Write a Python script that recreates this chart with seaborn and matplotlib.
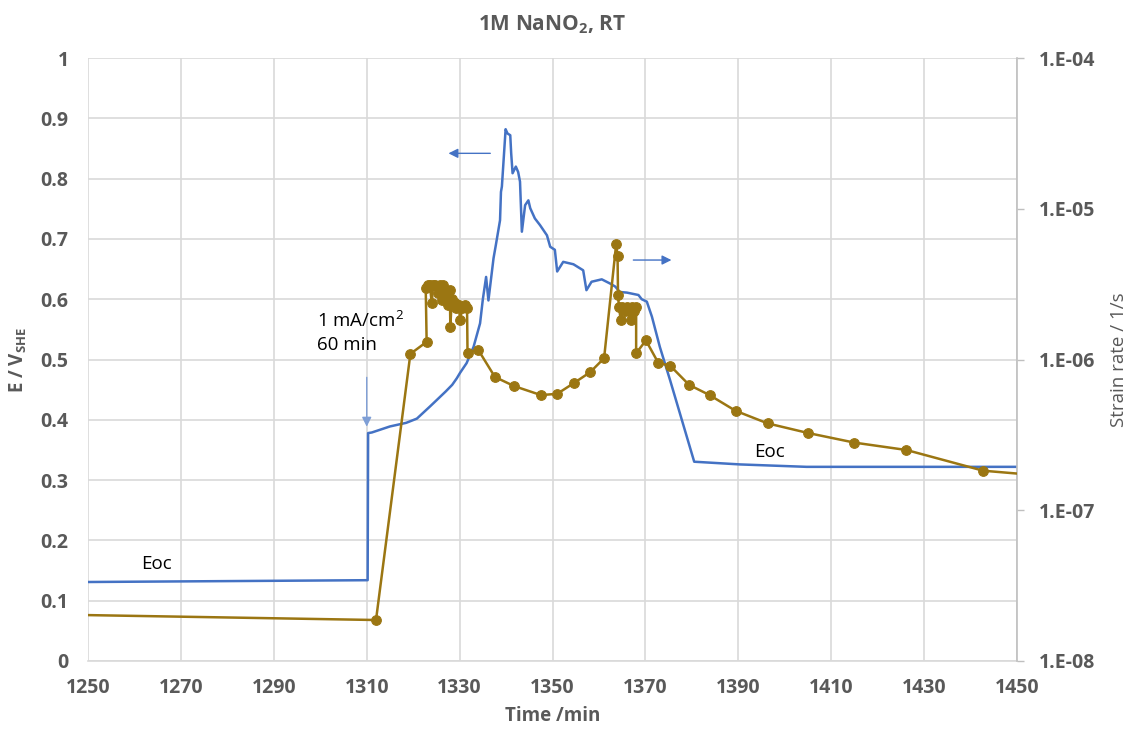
import numpy as np
import pandas as pd
import matplotlib
matplotlib.use("Agg")
import matplotlib.pyplot as plt
import seaborn as sns
from matplotlib.ticker import FixedLocator, FuncFormatter, NullLocator

# ---------------- data ----------------
# Potential E (V_SHE) vs time (min)  -> left axis
e_time = [1250, 1310.2, 1310.3, 1311.1, 1315, 1318.5, 1320.8, 1323.6, 1325.1, 1327.0, 1328.4,
          1329.4, 1330.1, 1331.5, 1333.0, 1334.4, 1335.0, 1335.7, 1336.2, 1337.3, 1337.8,
          1338.7, 1338.9, 1339.1, 1339.9, 1340.3, 1340.9, 1341.1, 1341.4, 1342.1, 1342.6,
          1343.0, 1343.4, 1344.1, 1344.8, 1345.2, 1346.2, 1347.3, 1348.8, 1349.5, 1350.5,
          1351.0, 1352.3, 1354.5, 1356.6, 1357.3, 1358.4, 1360.6, 1362.4, 1363.5, 1364.5,
          1366.0, 1368.5, 1369.2, 1370.3, 1371.4, 1373.1, 1375.3, 1380.5, 1390.4, 1404.7,
          1450]
e_value = [0.131, 0.134, 0.378, 0.379, 0.389, 0.395, 0.402, 0.422, 0.433, 0.447, 0.458,
           0.469, 0.478, 0.494, 0.521, 0.560, 0.600, 0.637, 0.598, 0.668, 0.690,
           0.731, 0.778, 0.787, 0.882, 0.875, 0.872, 0.842, 0.809, 0.820, 0.811,
           0.795, 0.712, 0.756, 0.764, 0.751, 0.734, 0.723, 0.706, 0.687, 0.682,
           0.646, 0.662, 0.658, 0.648, 0.615, 0.629, 0.633, 0.626, 0.621, 0.612,
           0.611, 0.607, 0.600, 0.596, 0.571, 0.521, 0.466, 0.3305, 0.326, 0.322,
           0.322]

# Strain rate (1/s) vs time (min)  -> right (log) axis
sr_time = [1236, 1312, 1319.4, 1322.9, 1322.7, 1323.1, 1323.6, 1324.0, 1324.3, 1324.8,
           1325.3, 1325.7, 1326.1, 1326.5, 1327.0, 1327.5, 1327.9, 1328.0, 1328.3, 1328.9,
           1329.3, 1329.8, 1330.1, 1330.6, 1331.1, 1331.6, 1331.7, 1334.0, 1337.6, 1341.7,
           1347.5, 1351.0, 1354.6, 1358.1, 1361.1, 1363.7, 1364.0, 1364.1, 1364.3, 1364.7,
           1365.0, 1365.5, 1366.0, 1366.5, 1366.8, 1367.2, 1367.6, 1368.0, 1368.0, 1370.1,
           1372.8, 1375.3, 1379.4, 1383.8, 1389.4, 1396.3, 1405.1, 1415.0, 1426.2, 1442.7,
           1455]
sr_value = [2.05e-8, 1.87e-8, 1.09e-6, 1.31e-6, 2.99e-6, 3.13e-6, 3.13e-6, 2.36e-6, 3.13e-6, 3.13e-6,
            2.75e-6, 3.13e-6, 2.49e-6, 3.13e-6, 2.75e-6, 2.29e-6, 2.88e-6, 1.64e-6, 2.51e-6, 2.38e-6,
            2.19e-6, 2.29e-6, 1.84e-6, 2.19e-6, 2.29e-6, 2.19e-6, 1.11e-6, 1.16e-6, 7.66e-7, 6.67e-7,
            5.81e-7, 5.92e-7, 6.98e-7, 8.24e-7, 1.02e-6, 5.83e-6, 4.86e-6, 2.67e-6, 2.23e-6, 1.82e-6,
            2.23e-6, 2.09e-6, 2.23e-6, 2.09e-6, 1.82e-6, 2.23e-6, 2.09e-6, 2.23e-6, 1.10e-6, 1.34e-6,
            9.46e-7, 9.12e-7, 6.79e-7, 5.81e-7, 4.57e-7, 3.77e-7, 3.25e-7, 2.81e-7, 2.51e-7, 1.83e-7,
            1.70e-7]

x_ticks = [1250, 1270, 1290, 1310, 1330, 1350, 1370, 1390, 1410, 1430, 1450]
e_ticks = [0, 0.1, 0.2, 0.3, 0.4, 0.5, 0.6, 0.7, 0.8, 0.9, 1]
e_tick_labels = ["0", "0.1", "0.2", "0.3", "0.4", "0.5", "0.6", "0.7", "0.8", "0.9", "1"]
sr_ticks = [1e-8, 1e-7, 1e-6, 1e-5, 1e-4]

df_e = pd.DataFrame({"time": e_time, "E": e_value})
df_sr = pd.DataFrame({"time": sr_time, "rate": sr_value})

# ---------------- style ----------------
sns.set_theme(style="white")
plt.rcParams["font.family"] = ["Open Sans", "DejaVu Sans"]
TXT = "#595959"
BLUE = "#4472C4"
GOLD = "#9B7612"
GRID = "#D9D9D9"

fig = plt.figure(figsize=(11.43, 7.35), dpi=100)
ax = fig.add_axes([0.077, 0.1007, 0.8128, 0.8203])
ax2 = ax.twinx()

# left axis: potential
sns.lineplot(data=df_e, x="time", y="E", ax=ax, color=BLUE, linewidth=1.8,
             sort=False, estimator=None, zorder=3)
ax.set_xlim(1250, 1450)
ax.set_ylim(0, 1)
ax.set_xticks(x_ticks)
ax.set_yticks(e_ticks)
ax.set_yticklabels(e_tick_labels)
ax.grid(True, color=GRID, linewidth=1.2)
ax.set_axisbelow(True)
for s in ["top", "right", "left"]:
    ax.spines[s].set_visible(False)
ax.spines["bottom"].set_color(GRID)
ax.spines["bottom"].set_linewidth(1.2)
ax.tick_params(axis="x", length=0, colors=TXT, labelsize=14, pad=12)
ax.tick_params(axis="y", length=0, colors=TXT, labelsize=14, pad=14)
for lab in ax.get_xticklabels() + ax.get_yticklabels():
    lab.set_fontweight("bold")
ax.set_xlabel("Time /min", color=TXT, fontsize=13.5, fontweight="bold", labelpad=6)
ax.set_ylabel(r"E / V$_\mathregular{SHE}$", color=TXT, fontsize=13.5, fontweight="bold", labelpad=8)

# right axis: strain rate (log)
sns.lineplot(data=df_sr, x="time", y="rate", ax=ax2, color=GOLD, linewidth=1.8,
             marker="o", markersize=7, markeredgecolor=GOLD, sort=False, estimator=None,
             zorder=4)
ax2.set_yscale("log")
ax2.set_ylim(1e-8, 1e-4)
ax2.set_xlim(1250, 1450)
ax2.yaxis.set_major_locator(FixedLocator(sr_ticks))
ax2.yaxis.set_minor_locator(NullLocator())
ax2.yaxis.set_major_formatter(FuncFormatter(lambda v, p: "1.E-%02d" % round(-np.log10(v))))
ax2.grid(False)
for s in ["top", "left", "bottom"]:
    ax2.spines[s].set_visible(False)
ax2.spines["right"].set_color("#BFBFBF")
ax2.spines["right"].set_linewidth(1.2)
ax2.tick_params(axis="y", direction="out", length=5, width=1, color="#BFBFBF",
                colors=TXT, labelsize=14, pad=11)
for lab in ax2.get_yticklabels():
    lab.set_fontweight("bold")
ax2.set_ylabel("Strain rate / 1/s", color=TXT, fontsize=13.5, labelpad=10)
ax2.set_xlabel("")

# title
ax.set_title(r"1M NaNO$_\mathregular{2}$, RT", color=TXT, fontsize=15, fontweight="bold", pad=20)

# annotations (left-axis data coordinates)
ax.text(1261.4, 0.161, "Eoc", fontsize=13.5, color="black", ha="left", va="center", zorder=6)
ax.text(1393.5, 0.347, "Eoc", fontsize=13.5, color="black", ha="left", va="center", zorder=6)
ax.text(1299.3, 0.546, "1 mA/cm$^\\mathregular{2}$\n60 min", fontsize=13.5, color="black",
        ha="left", va="center", linespacing=1.35, zorder=6)
arrow_kw = dict(arrowstyle="-|>", color=BLUE, lw=1.0, mutation_scale=14)
ax.annotate("", xy=(1310, 0.384), xytext=(1310, 0.475),
            arrowprops=dict(arrowstyle="-|>", color="#7F9FD6", lw=1.0, mutation_scale=14), zorder=6)
ax.annotate("", xy=(1327, 0.842), xytext=(1337.2, 0.842), arrowprops=arrow_kw, zorder=6)
ax.annotate("", xy=(1376.2, 0.665), xytext=(1366.8, 0.665), arrowprops=arrow_kw, zorder=6)

fig.savefig("out.png", dpi=100)
